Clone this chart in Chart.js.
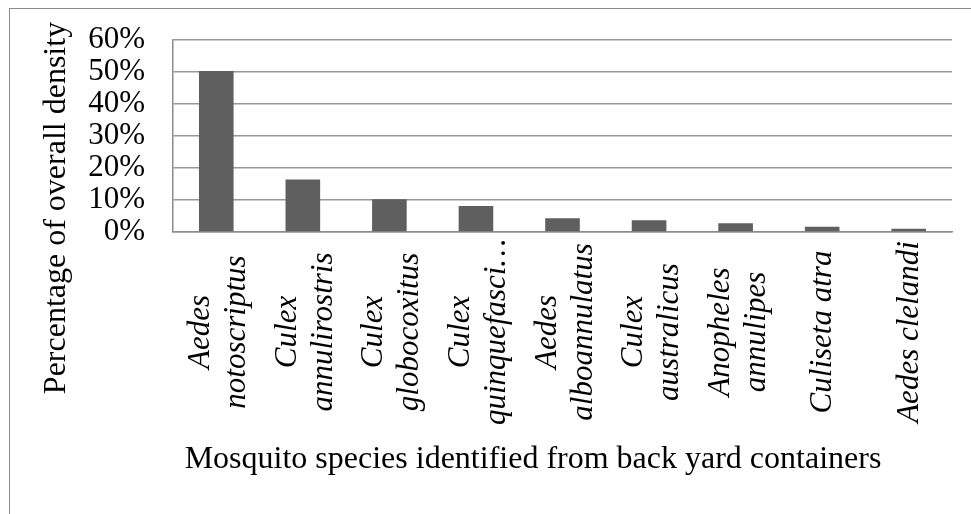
<!DOCTYPE html>
<html>
<head>
<meta charset="UTF-8">
<title>Mosquito species density</title>
<script src="https://cdn.jsdelivr.net/npm/chart.js"></script>
<style>
  html, body { margin: 0; padding: 0; background: #fff; }
  #wrap { position: relative; width: 971px; height: 514px; }
  #frame { position: absolute; left: 9px; top: 8px; right: 0; bottom: 0;
           border-top: 1px solid #8a8a8a; border-left: 1px solid #8a8a8a; }
  canvas { position: absolute; left: 0; top: 0; }
</style>
</head>
<body>
<div id="wrap">
  <div id="frame"></div>
  <canvas id="chart" width="971" height="514"></canvas>
</div>
<script>
// data
const species = [
  ['Aedes', 'notoscriptus'],
  ['Culex', 'annulirostris'],
  ['Culex', 'globocoxitus'],
  ['Culex', 'quinquefasci\u2026'],
  ['Aedes', 'alboannulatus'],
  ['Culex', 'australicus'],
  ['Anopheles', 'annulipes'],
  ['Culiseta atra'],
  ['Aedes clelandi']
];
const density = [50.2, 16.4, 10.2, 8.1, 4.3, 3.7, 2.7, 1.6, 1.0];
const yMin = 0, yMax = 60, yStep = 10;
const yTitle = 'Percentage of overall density';
const xTitle = 'Mosquito species identified from back yard containers';

// rotated category labels + axis titles (excel centres these differently than chart.js does)
const axisText = {
  id: 'axisText',
  afterDraw(chart) {
    const ctx = chart.ctx;
    const xs = chart.scales.x;
    ctx.save();
    ctx.fillStyle = '#000';
    ctx.textAlign = 'center';
    ctx.textBaseline = 'alphabetic';

    ctx.font = 'italic 31px "Liberation Serif"';
    species.forEach((lines, i) => {
      const cx = xs.getPixelForValue(i);
      lines.forEach((line, j) => {
        const off = 9 - 16 * (lines.length - 1) + j * 36;
        ctx.save();
        ctx.translate(cx + off, 332);
        ctx.rotate(-Math.PI / 2);
        ctx.fillText(line, 0, 0);
        ctx.restore();
      });
    });

    ctx.font = '32px "Liberation Serif"';
    ctx.save();
    ctx.translate(65, 208);
    ctx.rotate(-Math.PI / 2);
    ctx.fillText(yTitle, 0, 0);
    ctx.restore();

    ctx.fillText(xTitle, 533, 468);
    ctx.restore();
  }
};

new Chart(document.getElementById('chart'), {
  type: 'bar',
  data: {
    labels: species,
    datasets: [{
      data: density,
      backgroundColor: '#5f5f5f',
      categoryPercentage: 1.0,
      barPercentage: 0.4
    }]
  },
  options: {
    responsive: false,
    animation: false,
    devicePixelRatio: 1,
    layout: { padding: { top: 39.5, right: 19, left: 0, bottom: 0 } },
    plugins: { legend: { display: false }, tooltip: { enabled: false } },
    scales: {
      x: {
        grid: { display: false, drawTicks: false },
        border: { display: true, color: '#8c8c8c', width: 1.5 },
        ticks: { display: false },
        afterFit: (s) => { s.height = 514 - 232; }
      },
      y: {
        min: yMin,
        max: yMax,
        grid: { color: '#979797', lineWidth: 1.5, drawTicks: false },
        border: { display: true, color: '#8c8c8c', width: 1.5 },
        ticks: {
          stepSize: yStep,
          autoSkip: false,
          padding: 28,
          color: '#000',
          font: { family: '"Liberation Serif"', size: 31, lineHeight: 1 },
          callback: (v) => v + '%'
        },
        afterFit: (s) => { s.width = 173; s.paddingTop = 0; s.paddingBottom = 0; }
      }
    }
  },
  plugins: [axisText]
});
</script>
</body>
</html>
